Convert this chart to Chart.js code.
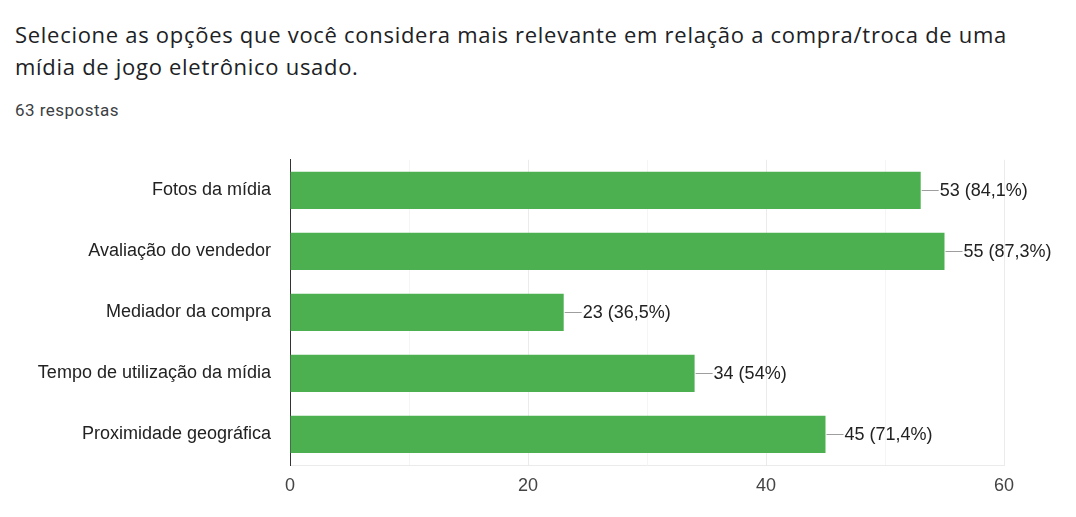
<!DOCTYPE html>
<html>
<head>
<meta charset="utf-8">
<script src="https://cdn.jsdelivr.net/npm/chart.js@4/dist/chart.umd.min.js"></script>
<style>
  html, body { margin: 0; padding: 0; background: #fff; width: 1076px; height: 517px; overflow: hidden; }
  .t { position: absolute; left: 15px; font-family: "Open Sans", Roboto, sans-serif; font-size: 22px; line-height: 32px; color: #202124; white-space: nowrap; }
  #t1 { top: 18px; }
  #t2 { top: 50px; }
  #sub { position: absolute; left: 15px; top: 100px; font-family: Roboto, sans-serif; font-size: 17px; color: #3c4043; white-space: nowrap; }
  #wrap { position: absolute; left: 0; top: 130px; width: 1076px; height: 387px; }
</style>
</head>
<body>
<div id="t1" class="t">Selecione as opções que você considera mais relevante em relação a compra/troca de uma</div>
<div id="t2" class="t">mídia de jogo eletrônico usado.</div>
<div id="sub">63 respostas</div>
<div id="wrap"><canvas id="c" width="1076" height="387"></canvas></div>
<script>
const categories = ["Fotos da mídia", "Avaliação do vendedor", "Mediador da compra", "Tempo de utilização da mídia", "Proximidade geográfica"];
const counts = [53, 55, 23, 34, 45];
const percentLabels = ["84,1%", "87,3%", "36,5%", "54%", "71,4%"];
const xTicks = [0, 20, 40, 60];

// fit header text widths to the reference
function fit(el, target) {
  const w = el.getBoundingClientRect().width;
  const n = el.textContent.length;
  el.style.letterSpacing = ((target - w) / n) + 'px';
}
const t1 = document.getElementById('t1');
fit(t1, 992);
document.getElementById('t2').style.letterSpacing = t1.style.letterSpacing;
fit(document.getElementById('sub'), 104);

const valueLabels = {
  id: 'valueLabels',
  afterDatasetsDraw(chart) {
    const ctx = chart.ctx;
    const meta = chart.getDatasetMeta(0);
    ctx.save();
    ctx.font = '18px "Liberation Sans", Arial, sans-serif';
    ctx.textBaseline = 'middle';
    ctx.textAlign = 'left';
    meta.data.forEach((bar, i) => {
      const x = bar.x, y = bar.y;
      ctx.strokeStyle = '#9e9e9e';
      ctx.lineWidth = 1;
      ctx.beginPath();
      ctx.moveTo(x + 1, Math.round(y) + 0.5);
      ctx.lineTo(x + 18, Math.round(y) + 0.5);
      ctx.stroke();
      ctx.fillStyle = '#222222';
      ctx.fillText(counts[i] + ' (' + percentLabels[i] + ')', x + 19, y + 1);
    });
    ctx.restore();
  }
};

new Chart(document.getElementById('c'), {
  type: 'bar',
  data: {
    labels: categories,
    datasets: [{
      data: counts,
      backgroundColor: '#4caf50',
      borderWidth: 0,
      barPercentage: 0.61,
      categoryPercentage: 1.0
    }]
  },
  options: {
    indexAxis: 'y',
    responsive: false,
    animation: false,
    devicePixelRatio: 1,
    layout: { padding: { top: 0, right: 72, bottom: 0, left: 0 } },
    plugins: { legend: { display: false }, tooltip: { enabled: false } },
    scales: {
      x: {
        min: 0, max: 60,
        ticks: {
          stepSize: 10,
          padding: 10,
          maxRotation: 0,
          autoSkip: false,
          color: '#444',
          font: { family: '"Liberation Sans", Arial, sans-serif', size: 18 },
          callback: (v) => xTicks.includes(v) ? String(v) : ''
        },
        grid: {
          drawTicks: false,
          color: (c) => (c.tick && c.tick.value % 20 === 0) ? '#ebebeb' : '#f5f5f5'
        },
        border: { display: true, color: '#ebebeb' },
        afterFit: (s) => { s.height = 52; }
      },
      y: {
        ticks: {
          padding: 19,
          color: '#222',
          font: { family: '"Liberation Sans", Arial, sans-serif', size: 18 }
        },
        grid: { display: false, drawTicks: false },
        border: { display: true, color: '#333', width: 1 },
        afterFit: (s) => { s.width = 290; }
      }
    }
  },
  plugins: [valueLabels]
});
</script>
</body>
</html>
